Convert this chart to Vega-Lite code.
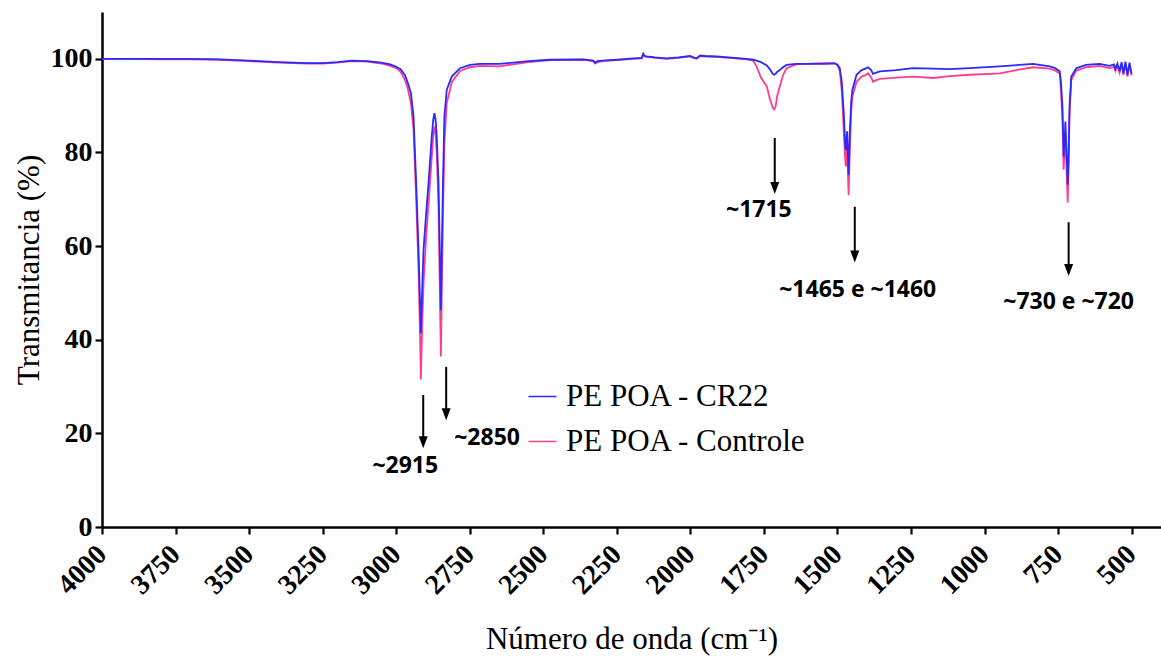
{
  "$schema": "https://vega.github.io/schema/vega-lite/v6.json",
  "width": 1059,
  "height": 515,
  "autosize": {"type": "none"},
  "padding": {"left": 102, "top": 12, "right": 0, "bottom": 132},
  "background": "white",
  "config": {
    "view": {"stroke": null},
    "axis": {
      "domainColor": "black", "domainWidth": 2.5,
      "tickColor": "black", "tickWidth": 2.2, "tickSize": 7,
      "labelFont": "Liberation Serif", "labelFontWeight": "bold", "labelFontSize": 28, "labelColor": "black",
      "titleFont": "Liberation Serif", "titleFontWeight": "normal", "titleFontSize": 31, "titleColor": "black",
      "grid": false
    },
    "legend": {
      "orient": "none", "legendX": 425, "legendY": 369, "padding": 0,
      "symbolType": "stroke", "symbolSize": 784, "symbolStrokeWidth": 1.5,
      "labelFont": "Liberation Serif", "labelFontSize": 31, "labelColor": "black", "labelLimit": 600,
      "rowPadding": 13, "labelOffset": 8, "title": null
    }
  },
  "datasets": {
    "spectra": [
      {"wn": 4000, "PE POA - CR22": 100.0, "PE POA - Controle": 100.0},
      {"wn": 3900, "PE POA - CR22": 100.0, "PE POA - Controle": 100.0},
      {"wn": 3800, "PE POA - CR22": 100.0, "PE POA - Controle": 99.9},
      {"wn": 3700, "PE POA - CR22": 100.0, "PE POA - Controle": 99.9},
      {"wn": 3600, "PE POA - CR22": 99.9, "PE POA - Controle": 99.8},
      {"wn": 3500, "PE POA - CR22": 99.6, "PE POA - Controle": 99.5},
      {"wn": 3400, "PE POA - CR22": 99.3, "PE POA - Controle": 99.2},
      {"wn": 3300, "PE POA - CR22": 99.1, "PE POA - Controle": 99.0},
      {"wn": 3250, "PE POA - CR22": 99.1, "PE POA - Controle": 99.0},
      {"wn": 3200, "PE POA - CR22": 99.3, "PE POA - Controle": 99.2},
      {"wn": 3150, "PE POA - CR22": 99.6, "PE POA - Controle": 99.5},
      {"wn": 3100, "PE POA - CR22": 99.5, "PE POA - Controle": 99.4},
      {"wn": 3050, "PE POA - CR22": 99.2, "PE POA - Controle": 99.0},
      {"wn": 3020, "PE POA - CR22": 98.8, "PE POA - Controle": 98.5},
      {"wn": 3000, "PE POA - CR22": 98.3, "PE POA - Controle": 98.0},
      {"wn": 2985, "PE POA - CR22": 97.8, "PE POA - Controle": 97.2},
      {"wn": 2970, "PE POA - CR22": 96.5, "PE POA - Controle": 95.5},
      {"wn": 2960, "PE POA - CR22": 94.8, "PE POA - Controle": 93.5},
      {"wn": 2950, "PE POA - CR22": 92.7, "PE POA - Controle": 90.5},
      {"wn": 2941, "PE POA - CR22": 87.7, "PE POA - Controle": 85.0},
      {"wn": 2932, "PE POA - CR22": 73.5, "PE POA - Controle": 70.0},
      {"wn": 2924, "PE POA - CR22": 59.2, "PE POA - Controle": 55.0},
      {"wn": 2918, "PE POA - CR22": 46.0, "PE POA - Controle": 38.0},
      {"wn": 2916, "PE POA - CR22": 41.4, "PE POA - Controle": 31.5},
      {"wn": 2912, "PE POA - CR22": 50.0, "PE POA - Controle": 42.0},
      {"wn": 2907, "PE POA - CR22": 59.2, "PE POA - Controle": 52.0},
      {"wn": 2898, "PE POA - CR22": 67.0, "PE POA - Controle": 62.0},
      {"wn": 2890, "PE POA - CR22": 73.5, "PE POA - Controle": 69.0},
      {"wn": 2879, "PE POA - CR22": 83.4, "PE POA - Controle": 79.0},
      {"wn": 2874, "PE POA - CR22": 87.0, "PE POA - Controle": 83.5},
      {"wn": 2870, "PE POA - CR22": 88.4, "PE POA - Controle": 85.5},
      {"wn": 2866, "PE POA - CR22": 87.0, "PE POA - Controle": 84.0},
      {"wn": 2862, "PE POA - CR22": 83.4, "PE POA - Controle": 80.0},
      {"wn": 2856, "PE POA - CR22": 73.4, "PE POA - Controle": 68.0},
      {"wn": 2852, "PE POA - CR22": 60.0, "PE POA - Controle": 52.0},
      {"wn": 2848, "PE POA - CR22": 46.3, "PE POA - Controle": 36.4},
      {"wn": 2845, "PE POA - CR22": 58.0, "PE POA - Controle": 50.0},
      {"wn": 2841, "PE POA - CR22": 73.4, "PE POA - Controle": 66.0},
      {"wn": 2836, "PE POA - CR22": 87.7, "PE POA - Controle": 82.0},
      {"wn": 2828, "PE POA - CR22": 93.4, "PE POA - Controle": 90.5},
      {"wn": 2811, "PE POA - CR22": 96.2, "PE POA - Controle": 95.0},
      {"wn": 2783, "PE POA - CR22": 98.0, "PE POA - Controle": 97.4},
      {"wn": 2749, "PE POA - CR22": 98.7, "PE POA - Controle": 98.2},
      {"wn": 2715, "PE POA - CR22": 98.9, "PE POA - Controle": 98.5},
      {"wn": 2650, "PE POA - CR22": 98.9, "PE POA - Controle": 98.4},
      {"wn": 2550, "PE POA - CR22": 99.5, "PE POA - Controle": 99.3},
      {"wn": 2477, "PE POA - CR22": 99.8, "PE POA - Controle": 99.7},
      {"wn": 2364, "PE POA - CR22": 99.9, "PE POA - Controle": 99.8},
      {"wn": 2330, "PE POA - CR22": 99.6, "PE POA - Controle": 99.5},
      {"wn": 2324, "PE POA - CR22": 99.2, "PE POA - Controle": 99.0},
      {"wn": 2315, "PE POA - CR22": 99.5, "PE POA - Controle": 99.3},
      {"wn": 2300, "PE POA - CR22": 99.6, "PE POA - Controle": 99.5},
      {"wn": 2250, "PE POA - CR22": 99.8, "PE POA - Controle": 99.7},
      {"wn": 2194, "PE POA - CR22": 100.1, "PE POA - Controle": 100.0},
      {"wn": 2165, "PE POA - CR22": 100.2, "PE POA - Controle": 100.1},
      {"wn": 2160, "PE POA - CR22": 101.1, "PE POA - Controle": 100.9},
      {"wn": 2155, "PE POA - CR22": 100.6, "PE POA - Controle": 100.5},
      {"wn": 2148, "PE POA - CR22": 100.5, "PE POA - Controle": 100.4},
      {"wn": 2120, "PE POA - CR22": 100.3, "PE POA - Controle": 100.2},
      {"wn": 2081, "PE POA - CR22": 100.1, "PE POA - Controle": 100.0},
      {"wn": 2040, "PE POA - CR22": 100.3, "PE POA - Controle": 100.2},
      {"wn": 2001, "PE POA - CR22": 100.6, "PE POA - Controle": 100.5},
      {"wn": 1990, "PE POA - CR22": 100.3, "PE POA - Controle": 100.2},
      {"wn": 1979, "PE POA - CR22": 100.1, "PE POA - Controle": 100.0},
      {"wn": 1967, "PE POA - CR22": 100.7, "PE POA - Controle": 100.6},
      {"wn": 1950, "PE POA - CR22": 100.6, "PE POA - Controle": 100.5},
      {"wn": 1911, "PE POA - CR22": 100.5, "PE POA - Controle": 100.4},
      {"wn": 1850, "PE POA - CR22": 100.2, "PE POA - Controle": 100.1},
      {"wn": 1809, "PE POA - CR22": 100.0, "PE POA - Controle": 99.9},
      {"wn": 1786, "PE POA - CR22": 99.8, "PE POA - Controle": 99.6},
      {"wn": 1775, "PE POA - CR22": 99.6, "PE POA - Controle": 98.4},
      {"wn": 1760, "PE POA - CR22": 99.3, "PE POA - Controle": 96.0},
      {"wn": 1740, "PE POA - CR22": 98.6, "PE POA - Controle": 94.1},
      {"wn": 1730, "PE POA - CR22": 97.8, "PE POA - Controle": 91.5},
      {"wn": 1720, "PE POA - CR22": 96.8, "PE POA - Controle": 89.6},
      {"wn": 1715, "PE POA - CR22": 96.6, "PE POA - Controle": 89.2},
      {"wn": 1710, "PE POA - CR22": 96.8, "PE POA - Controle": 89.8},
      {"wn": 1705, "PE POA - CR22": 97.2, "PE POA - Controle": 92.0},
      {"wn": 1696, "PE POA - CR22": 97.6, "PE POA - Controle": 94.1},
      {"wn": 1685, "PE POA - CR22": 98.2, "PE POA - Controle": 96.5},
      {"wn": 1673, "PE POA - CR22": 98.7, "PE POA - Controle": 98.0},
      {"wn": 1640, "PE POA - CR22": 98.9, "PE POA - Controle": 98.8},
      {"wn": 1605, "PE POA - CR22": 98.9, "PE POA - Controle": 98.9},
      {"wn": 1550, "PE POA - CR22": 98.9, "PE POA - Controle": 99.1},
      {"wn": 1510, "PE POA - CR22": 99.0, "PE POA - Controle": 99.1},
      {"wn": 1500, "PE POA - CR22": 98.8, "PE POA - Controle": 98.6},
      {"wn": 1492, "PE POA - CR22": 98.0, "PE POA - Controle": 97.5},
      {"wn": 1485, "PE POA - CR22": 95.0, "PE POA - Controle": 93.0},
      {"wn": 1478, "PE POA - CR22": 88.0, "PE POA - Controle": 84.0},
      {"wn": 1474, "PE POA - CR22": 82.0, "PE POA - Controle": 79.0},
      {"wn": 1471.5, "PE POA - CR22": 80.5, "PE POA - Controle": 77.0},
      {"wn": 1467, "PE POA - CR22": 84.5, "PE POA - Controle": 82.0},
      {"wn": 1462, "PE POA - CR22": 75.2, "PE POA - Controle": 70.9},
      {"wn": 1458, "PE POA - CR22": 84.0, "PE POA - Controle": 80.0},
      {"wn": 1453, "PE POA - CR22": 91.0, "PE POA - Controle": 89.0},
      {"wn": 1449, "PE POA - CR22": 93.4, "PE POA - Controle": 91.9},
      {"wn": 1435, "PE POA - CR22": 96.6, "PE POA - Controle": 95.1},
      {"wn": 1418, "PE POA - CR22": 97.6, "PE POA - Controle": 96.2},
      {"wn": 1405, "PE POA - CR22": 97.9, "PE POA - Controle": 96.5},
      {"wn": 1396, "PE POA - CR22": 98.2, "PE POA - Controle": 96.9},
      {"wn": 1385, "PE POA - CR22": 97.6, "PE POA - Controle": 96.0},
      {"wn": 1379, "PE POA - CR22": 96.8, "PE POA - Controle": 95.1},
      {"wn": 1370, "PE POA - CR22": 97.0, "PE POA - Controle": 95.4},
      {"wn": 1356, "PE POA - CR22": 97.3, "PE POA - Controle": 95.7},
      {"wn": 1300, "PE POA - CR22": 97.6, "PE POA - Controle": 96.0},
      {"wn": 1243, "PE POA - CR22": 98.0, "PE POA - Controle": 96.2},
      {"wn": 1175, "PE POA - CR22": 97.9, "PE POA - Controle": 95.9},
      {"wn": 1118, "PE POA - CR22": 97.8, "PE POA - Controle": 96.3},
      {"wn": 1050, "PE POA - CR22": 98.0, "PE POA - Controle": 96.6},
      {"wn": 948, "PE POA - CR22": 98.4, "PE POA - Controle": 96.9},
      {"wn": 900, "PE POA - CR22": 98.6, "PE POA - Controle": 97.5},
      {"wn": 835, "PE POA - CR22": 98.9, "PE POA - Controle": 98.2},
      {"wn": 778, "PE POA - CR22": 98.4, "PE POA - Controle": 97.9},
      {"wn": 760, "PE POA - CR22": 98.0, "PE POA - Controle": 97.5},
      {"wn": 744, "PE POA - CR22": 97.3, "PE POA - Controle": 96.8},
      {"wn": 740, "PE POA - CR22": 95.0, "PE POA - Controle": 93.0},
      {"wn": 735, "PE POA - CR22": 89.8, "PE POA - Controle": 87.0},
      {"wn": 731, "PE POA - CR22": 79.1, "PE POA - Controle": 76.3},
      {"wn": 728, "PE POA - CR22": 82.0, "PE POA - Controle": 80.0},
      {"wn": 725, "PE POA - CR22": 86.6, "PE POA - Controle": 84.0},
      {"wn": 721, "PE POA - CR22": 80.0, "PE POA - Controle": 76.0},
      {"wn": 717, "PE POA - CR22": 73.1, "PE POA - Controle": 69.3},
      {"wn": 714, "PE POA - CR22": 80.0, "PE POA - Controle": 77.0},
      {"wn": 711, "PE POA - CR22": 89.8, "PE POA - Controle": 88.0},
      {"wn": 705, "PE POA - CR22": 96.2, "PE POA - Controle": 95.5},
      {"wn": 688, "PE POA - CR22": 98.0, "PE POA - Controle": 97.5},
      {"wn": 655, "PE POA - CR22": 98.7, "PE POA - Controle": 98.2},
      {"wn": 609, "PE POA - CR22": 98.9, "PE POA - Controle": 98.5},
      {"wn": 575, "PE POA - CR22": 98.5, "PE POA - Controle": 98.0},
      {"wn": 560, "PE POA - CR22": 98.8, "PE POA - Controle": 98.3},
      {"wn": 555, "PE POA - CR22": 97.9, "PE POA - Controle": 97.4},
      {"wn": 548, "PE POA - CR22": 99.0, "PE POA - Controle": 98.5},
      {"wn": 541, "PE POA - CR22": 97.4, "PE POA - Controle": 97.0},
      {"wn": 534, "PE POA - CR22": 99.3, "PE POA - Controle": 98.8},
      {"wn": 528, "PE POA - CR22": 96.9, "PE POA - Controle": 96.5},
      {"wn": 521, "PE POA - CR22": 99.4, "PE POA - Controle": 98.9},
      {"wn": 514, "PE POA - CR22": 96.6, "PE POA - Controle": 96.2},
      {"wn": 507, "PE POA - CR22": 99.2, "PE POA - Controle": 98.7},
      {"wn": 500, "PE POA - CR22": 96.8, "PE POA - Controle": 96.4}
    ],
    "arrows": [
      {"wn": 2908, "ytop": 28.2, "yhead": 18.1},
      {"wn": 2830, "ytop": 34.2, "yhead": 24.1},
      {"wn": 1713, "ytop": 83.1, "yhead": 72.4},
      {"wn": 1441, "ytop": 68.4, "yhead": 57.8},
      {"wn": 714, "ytop": 65.1, "yhead": 54.9}
    ],
    "labels": [
      {"wn": 2969, "t": 13.0, "label": "~2915"},
      {"wn": 2691, "t": 19.0, "label": "~2850"},
      {"wn": 1767, "t": 67.7, "label": "~1715"},
      {"wn": 1431, "t": 50.6, "label": "~1465 e ~1460"},
      {"wn": 714, "t": 48.0, "label": "~730 e ~720"}
    ]
  },
  "encoding": {
    "x": {
      "field": "wn", "type": "quantitative",
      "scale": {"domain": [400, 4000], "reverse": true, "nice": false, "zero": false},
      "axis": {
        "title": "Número de onda (cm⁻¹)",
        "values": [4000, 3750, 3500, 3250, 3000, 2750, 2500, 2250, 2000, 1750, 1500, 1250, 1000, 750, 500],
        "format": "d", "labelAngle": -45, "labelAlign": "right", "labelBaseline": "middle",
        "labelPadding": 16, "titleY": 112, "titleBaseline": "middle", "labelFlush": false, "labelOverlap": false
      }
    }
  },
  "layer": [
    {
      "data": {"name": "spectra"},
      "transform": [
        {"fold": ["PE POA - Controle", "PE POA - CR22"], "as": ["s", "t"]},
        {"filter": "datum.s === 'PE POA - Controle'"}
      ],
      "mark": {"type": "line", "strokeWidth": 1.8, "interpolate": "linear"},
      "encoding": {
        "y": {
          "field": "t", "type": "quantitative",
          "scale": {"domain": [0, 110], "nice": false},
          "axis": {"title": "Transmitancia (%)", "values": [0, 20, 40, 60, 80, 100], "labelPadding": 3, "titleX": -73, "titleBaseline": "middle"}
        },
        "color": {
          "field": "s", "type": "nominal",
          "scale": {"domain": ["PE POA - CR22", "PE POA - Controle"], "range": ["#2a2aff", "#ff3d8e"]},
          "legend": {"title": null}
        }
      }
    },
    {
      "data": {"name": "spectra"},
      "transform": [
        {"fold": ["PE POA - Controle", "PE POA - CR22"], "as": ["s", "t"]},
        {"filter": "datum.s === 'PE POA - CR22'"}
      ],
      "mark": {"type": "line", "strokeWidth": 1.8, "interpolate": "linear"},
      "encoding": {
        "y": {"field": "t", "type": "quantitative"},
        "color": {"field": "s", "type": "nominal"}
      }
    },
    {
      "data": {"name": "arrows"},
      "mark": {"type": "rule", "color": "black", "strokeWidth": 2},
      "encoding": {
        "y": {"field": "ytop", "type": "quantitative"},
        "y2": {"field": "yhead"}
      }
    },
    {
      "data": {"name": "arrows"},
      "mark": {"type": "point", "shape": "M0,1L-0.75,-1L0.75,-1Z", "filled": true, "color": "black", "opacity": 1, "size": 144},
      "encoding": {
        "y": {"field": "yhead", "type": "quantitative"}
      }
    },
    {
      "data": {"name": "labels"},
      "mark": {"type": "text", "font": "Open Sans", "fontWeight": "bold", "fontSize": 23, "color": "black", "align": "center", "baseline": "middle"},
      "encoding": {
        "y": {"field": "t", "type": "quantitative"},
        "text": {"field": "label"}
      }
    }
  ]
}
